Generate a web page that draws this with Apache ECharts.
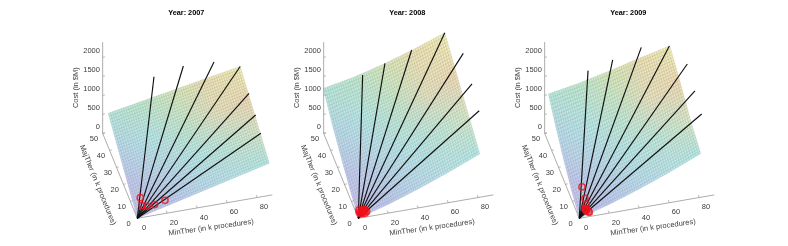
<!DOCTYPE html>
<html><head><meta charset="utf-8">
<style>html,body{margin:0;padding:0;background:#fff}#main{width:788px;height:246px;filter:blur(0.3px)}</style>
<script src="https://cdn.jsdelivr.net/npm/echarts@6/dist/echarts.min.js"></script>
</head><body><div id="main"></div>
<script>
// ---------- data ----------
const years = ['2007', '2008', '2009'];
const minTherTicks = [0, 20, 40, 60, 80];
const majTherTicks = [0, 10, 20, 30, 40, 50];
const costTicks = [0, 500, 1000, 1500, 2000];

// surface samples: cost at each (MinTher, MajTher)
const minGrid2007 = [0, 22, 44, 66, 88];
const majGrid2007 = [0, 14, 28, 42];
const cost2007 = [
  [0, 212, 424, 636, 847],
  [295, 489, 682, 876, 1069],
  [591, 766, 941, 1117, 1292],
  [886, 1043, 1200, 1357, 1514]
];
const minGrid2008 = [0, 20, 40, 60, 81];
const majGrid2008 = [0, 12.5, 25, 38, 50.5];
const cost2008 = [
  [0, 230, 500, 800, 1140],
  [230, 470, 740, 1020, 1370],
  [500, 730, 990, 1270, 1590],
  [800, 1020, 1250, 1510, 1830],
  [1158, 1310, 1520, 1770, 2070]
];
const minGrid2009 = [0, 20, 40, 60, 81];
const majGrid2009 = [0, 11, 22, 33, 44.7];
const cost2009 = [
  [0, 230, 500, 800, 1150],
  [230, 450, 700, 970, 1300],
  [520, 720, 960, 1220, 1520],
  [860, 1050, 1260, 1510, 1760],
  [1272, 1410, 1590, 1790, 1982]
];

// black rays: far end of each ray as [MinTher, MajTher, Cost]; all start at 0,0,0
const rays2007 = [[33.3,48,1351],[51.5,45,1643],[73.3,48,1465],[88,42,1514],[90.2,34,1152],[90,24,1030],[89.8,16,907]];
const rays2008 = [[26,50,1357],[41.1,50.5,1539],[58.9,50.5,1767],[81,50.5,2070],[86.6,36,2138],[86.9,24,1867],[88,16,1512]];
const rays2009 = [[28,48,1547],[43.5,46,1811],[62.1,45,2061],[80.7,44.7,1982],[87.7,34,1940],[88.2,24,1674],[89,16,1421]];

// red circles as [MinTher, MajTher, Cost]
const points2007 = [[5.2,6.97,196],[5.1,3.8,129],[7.8,2.87,135],[12.6,2.32,170],[19.5,2.33,236]];
const points2008 = [[1.78,2.89,78],[3.26,2.25,79],[4.8,0.8,63],[6.1,1.15,82],[4.9,2.38,97],[2.2,1.45,52],[3.65,1.63,69],[3,2,70],[4.2,1.5,70],[2.8,1.2,50],[5.5,2,85],[1.5,2,60]];
const points2009 = [[6.8,10.84,293],[6.7,6.33,197],[6.5,3.98,146],[5.5,2.35,103],[5.8,1.9,95],[6.5,1.05,83],[7,0.66,80],[5.05,2.74,106],[5.6,2.5,80],[5.5,2,70]];

// ---------- styling and view ----------
const surfaces = [[minGrid2007, majGrid2007, cost2007], [minGrid2008, majGrid2008, cost2008], [minGrid2009, majGrid2009, cost2009]];
const raySets = [rays2007, rays2008, rays2009];
const pointSets = [points2007, points2008, points2009];
const PANEL_STEP = 221, ORIGIN_X = 137.3, ORIGIN_Y = 218.3;
const AXIS_MAX = [90, 50, 2400];
const project = (x, y, z) => [1.5 * x - 0.693 * y, 0.26 * x + 1.7 * y + 0.038 * z];
const palette = [
  ['#c8c4f2', '#bcc8f2', '#bcdcf2', '#bae8ee', '#b2ece8'],
  ['#c4c8f2', '#bcdcf2', '#b6ecec', '#c0ecdc', '#dcecc8'],
  ['#badcf0', '#b6ecec', '#c4ecd0', '#ecE4bc', '#f4dcb4'],
  ['#b8ecdf', '#c0ecd0', '#dcecb8', '#f2e4b2', '#f6f4b4']
].map(r => r.map(c => [1, 3, 5].map(i => parseInt(c.substr(i, 2), 16))));
function shade(u, v) {
  const fu = Math.min(u * 4, 3.999), fv = Math.min(v * 3, 2.999);
  const i = Math.floor(fu), j = Math.floor(fv), a = fu - i, b = fv - j;
  const c = [0, 1, 2].map(k => Math.round(
    (palette[j][i][k] * (1 - a) + palette[j][i + 1][k] * a) * (1 - b) +
    (palette[j + 1][i][k] * (1 - a) + palette[j + 1][i + 1][k] * a) * b));
  return 'rgb(' + c.join(',') + ')';
}
const MESH_STEP = 2.2;
function surfaceSeries(p) {
  const [xs, ys, zs] = surfaces[p];
  const cells = [];
  for (let j = 0; j < ys.length - 1; j++) for (let i = 0; i < xs.length - 1; i++) cells.push([i, j]);
  return {
    type: 'custom', xAxisIndex: p, yAxisIndex: p, silent: true, clip: false, z: 1,
    data: cells,
    renderItem(params, api) {
      const i = api.value(0), j = api.value(1);
      const x0 = xs[i], x1 = xs[i + 1], y0 = ys[j], y1 = ys[j + 1];
      const nx = Math.max(1, Math.round((x1 - x0) * 1.5 / MESH_STEP));
      const ny = Math.max(1, Math.round((y1 - y0) * 1.84 / MESH_STEP));
      const pt = (a, b) => {
        const z = (zs[j][i] * (1 - a) + zs[j][i + 1] * a) * (1 - b) + (zs[j + 1][i] * (1 - a) + zs[j + 1][i + 1] * a) * b;
        return api.coord(project(x0 + (x1 - x0) * a, y0 + (y1 - y0) * b, z));
      };
      const uOf = a => (x0 + (x1 - x0) * a) / xs[xs.length - 1];
      const vOf = b => (y0 + (y1 - y0) * b) / ys[ys.length - 1];
      const kids = [];
      for (let m = 0; m < nx; m++) for (let n = 0; n < ny; n++) {
        const a0 = m / nx, a1 = (m + 1) / nx, b0 = n / ny, b1 = (n + 1) / ny;
        const col = shade(uOf((a0 + a1) / 2), vOf((b0 + b1) / 2));
        kids.push({ type: 'polygon', shape: { points: [pt(a0, b0), pt(a1, b0), pt(a1, b1), pt(a0, b1)] },
          style: { fill: col, stroke: 'rgba(70,80,80,0.26)', lineWidth: 0.45 } });
      }
      return { type: 'group', children: kids };
    }
  };
}
function lineSeries(p, pts, color, width, z) {
  return { type: 'line', xAxisIndex: p, yAxisIndex: p, silent: true, clip: false, showSymbol: false, symbol: 'none',
    animation: false, z, lineStyle: { color, width }, data: pts };
}
function textSeries(p, items) {
  return { type: 'custom', xAxisIndex: p, yAxisIndex: p, silent: true, clip: false, z: 6, data: items.map((_, k) => [k]),
    renderItem(params, api) {
      const it = items[api.value(0)];
      const c = api.coord(it.at);
      return { type: 'text', x: c[0] + it.dx, y: c[1] + it.dy, rotation: it.rot || 0,
        style: { text: it.text, fill: '#3c3c3c', font: '7.5px "Liberation Sans"', align: it.align || 'center', verticalAlign: 'middle' } };
    } };
}
const grids = [], xAxes = [], yAxes = [], titles = [], series = [];
years.forEach((year, p) => {
  const ox = ORIGIN_X + PANEL_STEP * p;
  grids.push({ left: ox - 45, top: 0, width: PANEL_STEP, height: 246 });
  xAxes.push({ type: 'value', gridIndex: p, min: -45, max: PANEL_STEP - 45, show: false });
  yAxes.push({ type: 'value', gridIndex: p, min: ORIGIN_Y - 246, max: ORIGIN_Y, show: false });
  titles.push({ text: 'Year: ' + year, left: ox + 49, top: 12.7, padding: 0, textAlign: 'center', textVerticalAlign: 'middle',
    textStyle: { fontFamily: 'Liberation Sans', fontSize: 7.3, fontWeight: 'bold', color: '#000' } });
  const axis = '#8a8a8a';
  series.push(lineSeries(p, [project(0, 0, 0), project(AXIS_MAX[0], 0, 0)], axis, 0.7, 2));
  series.push(lineSeries(p, [project(0, 0, 0), project(0, AXIS_MAX[1], 0)], axis, 0.7, 2));
  series.push(lineSeries(p, [project(0, AXIS_MAX[1], 0), project(0, AXIS_MAX[1], AXIS_MAX[2])], axis, 0.7, 2));
  minTherTicks.forEach(t => series.push(lineSeries(p, [project(t, 0, 0), project(t, 1.5, 0)], axis, 0.6, 2)));
  majTherTicks.forEach(t => series.push(lineSeries(p, [project(0, t, 0), project(1.5, t, 0)], axis, 0.6, 2)));
  costTicks.forEach(t => series.push(lineSeries(p, [project(0, AXIS_MAX[1], t), project(1.5, AXIS_MAX[1], t)], axis, 0.6, 2)));
  series.push(surfaceSeries(p));
  raySets[p].forEach(r => series.push(lineSeries(p, [project(0, 0, 0), project(r[0], r[1], r[2])], '#111', 1.15, 3)));
  series.push({ type: 'scatter', xAxisIndex: p, yAxisIndex: p, silent: true, clip: false, z: 4, symbol: 'circle', symbolSize: 6.2,
    itemStyle: { color: 'rgba(0,0,0,0)', borderColor: '#f0101c', borderWidth: 1.5 },
    data: pointSets[p].map(q => project(q[0], q[1], q[2])) });
  const labels = [];
  minTherTicks.forEach(t => labels.push({ at: project(t, 0, 0), dx: 6.7, dy: 9.7, text: String(t) }));
  majTherTicks.forEach(t => labels.push({ at: project(0, t, 0), dx: -8.7, dy: 6, text: String(t) }));
  costTicks.forEach(t => labels.push({ at: project(0, AXIS_MAX[1], t), dx: -2.7, dy: -6.7, text: String(t), align: 'right' }));
  labels.push({ at: project(45, 0, 0), dx: 6.3, dy: 21, rot: 8 * Math.PI / 180, text: 'MinTher (in k procedures)' });
  labels.push({ at: project(0, 25, 0), dx: -22.3, dy: 9.2, rot: -68 * Math.PI / 180, text: 'MajTher (in k procedures)' });
  labels.push({ at: project(0, AXIS_MAX[1], 1200), dx: -26.7, dy: 0, rot: Math.PI / 2, text: 'Cost (in $M)' });
  series.push(textSeries(p, labels));
});
const chart = echarts.init(document.getElementById('main'), null, { renderer: 'canvas' });
chart.setOption({ animation: false, backgroundColor: '#fff', title: titles, grid: grids, xAxis: xAxes, yAxis: yAxes, series });
</script></body></html>
